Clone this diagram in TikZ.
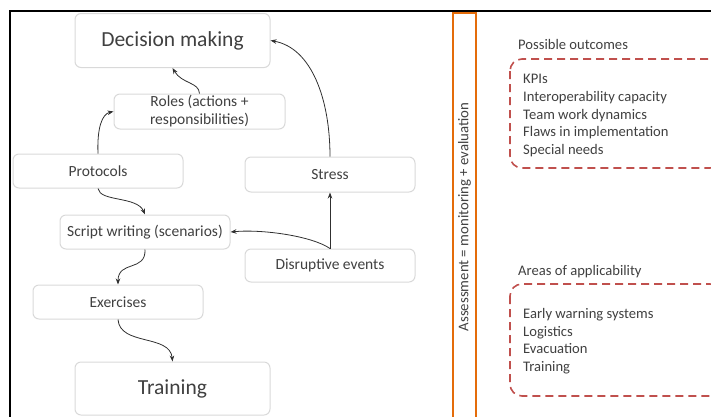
\documentclass[tikz,border=0pt]{standalone}
\usepackage{fontspec}
\setmainfont{Carlito}
\usetikzlibrary{arrows.meta}
\definecolor{boxgray}{HTML}{D9D9D9}
\definecolor{txtgray}{HTML}{404040}
\definecolor{arrowgray}{HTML}{303030}
\definecolor{assessorange}{HTML}{E46C0A}
\definecolor{dashred}{HTML}{C0504D}
\tikzset{
  stepbox/.style={draw=boxgray, line width=1pt, rounded corners=6pt, fill=white,
    text=txtgray, align=center, inner sep=0pt, font=\fontsize{15.5}{17}\selectfont},
  bigbox/.style={stepbox, minimum width=195pt, minimum height=54pt,
    font=\fontsize{21.5}{23}\selectfont},
  smallbox/.style={stepbox, minimum width=170pt, minimum height=34pt},
  flow/.style={draw=arrowgray, line width=0.8pt, -{Stealth[length=6pt,width=4.5pt]}},
  listtext/.style={text=txtgray, anchor=west, inner sep=0pt, font=\fontsize{14.6}{17.8}\selectfont, align=left},
  outcomebox/.style={draw=dashred, line width=1.6pt, dash pattern=on 8pt off 5pt, rounded corners=12pt}
}
\begin{document}
\begin{tikzpicture}[x=1pt,y=-1pt]
\useasboundingbox (0,0) rectangle (711,416);

% outer frame (only top and left edges fall inside the page)
\draw[black, line width=2pt] (10,430) -- (10,11) -- (730,11);

% flow nodes
\node[bigbox] (dm) at (172.5,40.5) {Decision making};
\node[smallbox, minimum width=171pt, minimum height=35pt, font=\fontsize{15.5}{18}\selectfont] (roles) at (199.5,111.5) {Roles (actions +\\ responsibilities)};
\node[smallbox] (prot) at (98,171) {Protocols};
\node[smallbox, minimum height=35pt] (stress) at (330,174.5) {Stress};
\node[smallbox] (script) at (145,232) {Script writing (scenarios)};
\node[smallbox, minimum height=33pt] (disr) at (330,265.5) {Disruptive events};
\node[smallbox] (exer) at (118,302) {Exercises};
\node[bigbox, minimum height=53pt] (train) at (172.5,388.5) {Training};

% connectors
\draw[flow] (roles.north) .. controls (199,82) and (182,84) .. (dm.south);
\draw[flow] (prot.north) .. controls (97,128) and (102,114) .. (roles.west);
\draw[flow] (prot.south) .. controls (100,202) and (137,196) .. (script.north);
\draw[flow] (script.south) .. controls (146,272) and (118,260) .. (exer.north);
\draw[flow] (exer.south) .. controls (120,346) and (170,334) .. (train.north);
\draw[flow] (disr.north) .. controls (312,236) and (262,229) .. (script.east);
\draw[flow] (disr.north) -- (stress.south);
\draw[flow] (stress.north) .. controls (330,100) and (312,48) .. (dm.east);

% assessment band
\draw[assessorange, line width=2pt] (452.5,13) rectangle (476,430);
\node[rotate=90, text=txtgray, font=\fontsize{14.8}{16}\selectfont, inner sep=0pt] (assess) at (464.5,217) {Assessment = monitoring + evaluation};

% possible outcomes
\node[listtext] (outT) at (518,44) {Possible outcomes};
\draw[outcomebox] (510,59) rectangle (722,168);
\node[listtext, anchor=north west] (outL) at (523,74) {KPIs\\Interoperability capacity\\Team work dynamics\\Flaws in implementation\\Special needs};

% areas of applicability
\node[listtext] (areaT) at (518,271.5) {Areas of applicability};
\draw[outcomebox] (510,284) rectangle (722,396);
\node[listtext, anchor=north west] (areaL) at (523,308) {Early warning systems\\Logistics\\Evacuation\\Training};
\end{tikzpicture}
\end{document}
